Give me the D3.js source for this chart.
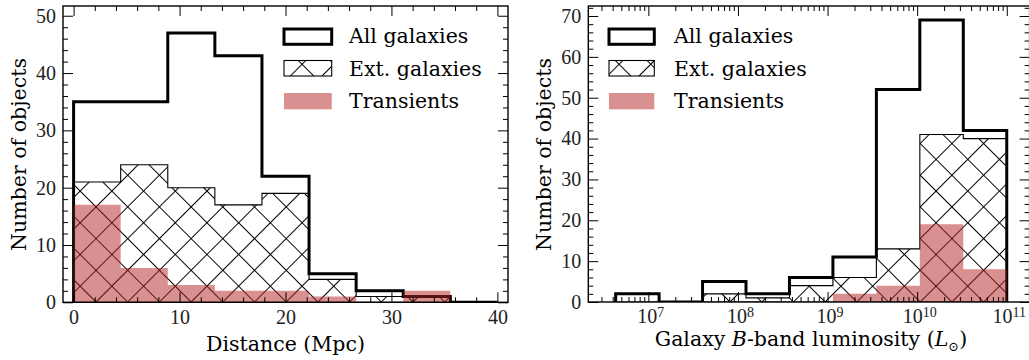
<!DOCTYPE html>
<html>
<head>
<meta charset="utf-8">
<script src="https://cdn.jsdelivr.net/npm/d3@7"></script>
<style>
	body { margin: 0; background: #fff; }
	svg { display: block; }
</style>
</head>
<body>
<svg id="chart" width="1029" height="360"></svg>
<script>
;(function() {
	"use strict";

	// --- data (histogram counts per bin) ---
	var distEdges = [0, 4.444, 8.889, 13.333, 17.778, 22.222, 26.667, 31.111, 35.556, 40];
	var distAll = [35, 35, 47, 43, 22, 5, 2, 1, 0];
	var distExt = [21, 24, 20, 17, 19, 4, 1, 1, 0];
	var distTrans = [17, 6, 3, 2, 2, 1, 0, 2, 0];

	// luminosity bin edges, log10(L / Lsun)
	var lumLogEdges = [6.635, 7.12, 7.605, 8.09, 8.575, 9.06, 9.545, 10.03, 10.515, 11.0];
	var lumAll = [2, 0, 5, 2, 6, 11, 52, 69, 42];
	var lumExt = [0, 0, 2, 1, 4, 6, 13, 41, 40];
	var lumTrans = [0, 0, 0, 0, 0, 2, 4, 19, 8];

	var distTicks = [0, 10, 20, 30, 40];
	var distCountTicks = [0, 10, 20, 30, 40, 50];
	var lumTickExps = [7, 8, 9, 10, 11];
	var lumCountTicks = [0, 10, 20, 30, 40, 50, 60, 70];

	var legendNames = ["All galaxies", "Ext. galaxies", "Transients"];

	var textFont = "'DejaVu Serif', serif",
		numFont = "'Liberation Serif', serif",
		transColor = "firebrick";

	var svg = d3.select("#chart");
	var defs = svg.append("defs");

	// crosshatch, same tiling for both panels (like matplotlib 'x')
	var hs = 31.7, hd = hs / Math.SQRT2;
	var pat = defs.append("pattern")
		.attr("id", "hatch")
		.attr("patternUnits", "userSpaceOnUse")
		.attr("width", hd)
		.attr("height", hd)
		.attr("patternTransform", "translate(96," + (302 - hs / 2) + ") rotate(45)");
	pat.append("path")
		.attr("d", "M0," + hd / 2 + "H" + hd + "M" + hd / 2 + ",0V" + hd)
		.attr("stroke", "#000")
		.attr("stroke-width", 1)
		.attr("fill", "none");

	function stepPath(x, y, edges, counts, close) {
		var p = d3.path();
		p.moveTo(x(edges[0]), y(0));
		counts.forEach(function(c, i) {
			p.lineTo(x(edges[i]), y(c));
			p.lineTo(x(edges[i + 1]), y(c));
		});
		p.lineTo(x(edges[edges.length - 1]), y(0));
		if (close) p.closePath();
		return p.toString();
	}

	function styleTicks(g, font, size) {
		g.select(".domain").remove();
		g.attr("font-family", font).attr("font-size", size);
		g.selectAll(".tick line").attr("stroke", "#000").attr("stroke-width", 1);
		g.selectAll(".tick text").attr("fill", "#222");
	}

	function drawPanel(o) {
		var x = o.x, y = o.y,
			x0 = o.box[0], y0 = o.box[1], x1 = o.box[2], y1 = o.box[3];
		var g = svg.append("g");

		defs.append("clipPath").attr("id", o.id + "-clip")
			.append("rect").attr("x", x0).attr("y", y0).attr("width", x1 - x0).attr("height", y1 - y0);

		var plot = g.append("g").attr("clip-path", "url(#" + o.id + "-clip)");

		// all galaxies: thick step outline
		plot.append("path")
			.attr("d", stepPath(x, y, o.edges, o.all, false))
			.attr("fill", "none")
			.attr("stroke", "#000")
			.attr("stroke-width", 3)
			.attr("stroke-linejoin", "miter");

		// extended galaxies: hatched, thin outline
		plot.append("path")
			.attr("d", stepPath(x, y, o.edges, o.ext, true))
			.attr("fill", "url(#hatch)")
			.attr("stroke", "#000")
			.attr("stroke-width", 1.1);

		// transients: translucent red fill on top
		plot.append("path")
			.attr("d", stepPath(x, y, o.edges, o.trans, true))
			.attr("fill", transColor)
			.attr("fill-opacity", 0.5)
			.attr("stroke", "none");

		// ticks, all pointing inward
		var bottom = g.append("g").attr("transform", "translate(0," + y1 + ")")
			.call(d3.axisBottom(x).tickValues(o.xMajor).tickSizeInner(-10).tickSizeOuter(0).tickPadding(o.xPad).tickFormat(o.xFormat));
		styleTicks(bottom, numFont, 20);
		if (o.xLabelFix) o.xLabelFix(bottom);

		g.append("g").attr("transform", "translate(0," + y1 + ")")
			.call(d3.axisBottom(x).tickValues(o.xMinor).tickSizeInner(-5).tickSizeOuter(0).tickFormat(""))
			.call(styleTicks, numFont, 20);
		g.append("g").attr("transform", "translate(0," + y0 + ")")
			.call(d3.axisTop(x).tickValues(o.xMajor).tickSizeInner(-10).tickSizeOuter(0).tickFormat(""))
			.call(styleTicks, numFont, 20);
		g.append("g").attr("transform", "translate(0," + y0 + ")")
			.call(d3.axisTop(x).tickValues(o.xMinor).tickSizeInner(-5).tickSizeOuter(0).tickFormat(""))
			.call(styleTicks, numFont, 20);

		g.append("g").attr("transform", "translate(" + x0 + ",0)")
			.call(d3.axisLeft(y).tickValues(o.yMajor).tickSizeInner(-10).tickSizeOuter(0).tickPadding(7).tickFormat(d3.format("d")))
			.call(styleTicks, numFont, 20);
		g.append("g").attr("transform", "translate(" + x0 + ",0)")
			.call(d3.axisLeft(y).tickValues(o.yMinor).tickSizeInner(-5).tickSizeOuter(0).tickFormat(""))
			.call(styleTicks, numFont, 20);
		g.append("g").attr("transform", "translate(" + x1 + ",0)")
			.call(d3.axisRight(y).tickValues(o.yMajor).tickSizeInner(-10).tickSizeOuter(0).tickFormat(""))
			.call(styleTicks, numFont, 20);
		g.append("g").attr("transform", "translate(" + x1 + ",0)")
			.call(d3.axisRight(y).tickValues(o.yMinor).tickSizeInner(-5).tickSizeOuter(0).tickFormat(""))
			.call(styleTicks, numFont, 20);

		// frame
		g.append("rect")
			.attr("x", x0).attr("y", y0)
			.attr("width", x1 - x0).attr("height", y1 - y0)
			.attr("fill", "none")
			.attr("stroke", "#000")
			.attr("stroke-width", 1.4);

		// legend
		var lg = g.append("g").attr("font-family", textFont).attr("font-size", 20.5).attr("fill", "#000");
		var hx = o.legend[0], hw = o.legend[1] - o.legend[0], tx = o.legend[2];
		var rows = [[29, 44.3, 43.3], [60.5, 76, 75.5], [93, 109.3, 108.3]];
		lg.append("rect").attr("x", hx).attr("y", rows[0][0]).attr("width", hw).attr("height", rows[0][1] - rows[0][0])
			.attr("fill", "none").attr("stroke", "#000").attr("stroke-width", 3);
		lg.append("rect").attr("x", hx).attr("y", rows[1][0]).attr("width", hw).attr("height", rows[1][1] - rows[1][0])
			.attr("fill", "url(#hatch)").attr("stroke", "#000").attr("stroke-width", 1.1);
		lg.append("rect").attr("x", hx).attr("y", rows[2][0]).attr("width", hw).attr("height", rows[2][1] - rows[2][0])
			.attr("fill", transColor).attr("fill-opacity", 0.5);
		legendNames.forEach(function(name, i) {
			lg.append("text").attr("x", tx).attr("y", rows[i][2]).text(name);
		});

		// axis labels
		var yl = g.append("text")
			.attr("font-family", textFont).attr("font-size", 20.5)
			.attr("text-anchor", "middle")
			.attr("transform", "translate(" + o.yLabelX + ",154.5) rotate(-90)")
			.text("Number of objects");

		var xl = g.append("text")
			.attr("font-family", textFont).attr("font-size", 20.5)
			.attr("text-anchor", "middle")
			.attr("x", o.xLabelPos[0]).attr("y", o.xLabelPos[1]);
		o.xLabel(xl);
	}

	// --- left panel: distance ---
	var xDist = d3.scaleLinear().domain([-1, 41]).range([63, 508]);
	var yDist = d3.scaleLinear().domain([0, 51.7]).range([302.3, 6]);

	drawPanel({
		id: "dist",
		box: [63, 6, 508, 302.3],
		x: xDist, y: yDist,
		edges: distEdges, all: distAll, ext: distExt, trans: distTrans,
		xMajor: distTicks,
		xMinor: d3.range(0, 41, 2).filter(function(v) { return v % 10; }),
		yMajor: distCountTicks,
		yMinor: d3.range(0, 51, 2).filter(function(v) { return v % 10; }),
		xPad: 8,
		xFormat: d3.format("d"),
		legend: [284, 331.7, 349],
		yLabelX: 26,
		xLabelPos: [285.5, 351],
		xLabel: function(t) { t.text("Distance (Mpc)"); }
	});

	// --- right panel: B-band luminosity ---
	var lumEdges = lumLogEdges.map(function(e) { return Math.pow(10, e); });
	var xLum = d3.scaleLog().domain([Math.pow(10, 6.33), Math.pow(10, 11.255)]).range([588.3, 1029.6]);
	var yLum = d3.scaleLinear().domain([0, 72.45]).range([302, 6]);

	var lumMinor = [];
	for (var n = 6; n <= 11; n++) {
		for (var k = 2; k <= 9; k++) {
			var v = k * Math.pow(10, n);
			if (v > xLum.domain()[0] && v < xLum.domain()[1]) lumMinor.push(v);
		}
	}

	drawPanel({
		id: "lum",
		box: [588.3, 6, 1029.6, 302],
		x: xLum, y: yLum,
		edges: lumEdges, all: lumAll, ext: lumExt, trans: lumTrans,
		xMajor: lumTickExps.map(function(e) { return Math.pow(10, e); }),
		xMinor: lumMinor,
		yMajor: lumCountTicks,
		yMinor: d3.range(0, 73, 2).filter(function(v) { return v % 10; }),
		xPad: 7,
		xFormat: function() { return ""; },
		xLabelFix: function(g) {
			g.selectAll(".tick text").each(function(d, i) {
				var t = d3.select(this);
				t.append("tspan").text("10");
				t.append("tspan").attr("font-size", 14).attr("dy", "-0.45em").text(lumTickExps[i]);
				t.attr("dx", "0.1em");
			});
		},
		legend: [609, 654.3, 674],
		yLabelX: 551,
		xLabelPos: [811, 346],
		xLabel: function(t) {
			t.append("tspan").text("Galaxy ");
			t.append("tspan").attr("font-style", "italic").text("B");
			t.append("tspan").text("-band luminosity (");
			t.append("tspan").attr("font-style", "italic").text("L");
			t.append("tspan").attr("font-size", 13).attr("dy", 5).text("\u2299");
			t.append("tspan").attr("dy", -5).text(")");
		}
	});
})();
</script>
</body>
</html>
